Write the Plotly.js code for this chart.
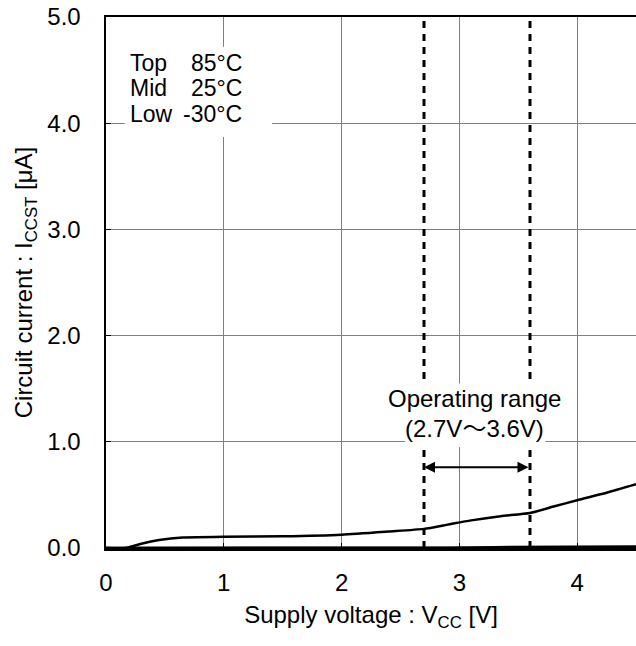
<!DOCTYPE html>
<html>
<head>
<meta charset="utf-8">
<script src="https://cdn.plot.ly/plotly-3.0.1.min.js"></script>
<style>html,body{margin:0;padding:0;background:#fff;}</style>
</head>
<body>
<div id="chart" style="width:636px;height:646px;"></div>
<script>
// Supply voltage [V]
const vccTop = [0.0, 0.17, 0.3, 0.45, 0.65, 1.0, 1.5, 2.0, 2.4, 2.7, 2.9, 3.1, 3.35, 3.6, 3.8, 4.0, 4.25, 4.5];
// 85°C circuit current [µA]
const iccTop = [0.0, 0.0, 0.04, 0.075, 0.1, 0.105, 0.11, 0.125, 0.155, 0.18, 0.22, 0.26, 0.3, 0.33, 0.39, 0.45, 0.52, 0.6];
const vccMid = [0.0, 1.0, 2.0, 2.9, 3.3, 3.6, 4.0, 4.5];
const iccMid = [0.0, 0.0, 0.0, 0.003, 0.008, 0.01, 0.012, 0.015];
const vccLow = [0.0, 1.0, 2.0, 3.0, 4.0, 4.5];
const iccLow = [0.0, 0.0, 0.0, 0.0, 0.0, 0.0];

const rangeMin = 2.7, rangeMax = 3.6;
const legendNames = ["Top", "Mid", "Low"];
const legendTemps = ["85°C", "25°C", "-30°C"];
const rangeLabel = ["Operating range", "(2.7V<span style=\"font-family:'Noto Sans CJK JP'\">～</span>3.6V)"];
const xTicks = [0, 1, 2, 3, 4];
const yTicks = [0, 1, 2, 3, 4, 5];
const yTickText = ["0.0", "1.0", "2.0", "3.0", "4.0", "5.0"];

const FONT = "Liberation Sans, Arial, Helvetica, sans-serif";
const FS = 24;

const lineStyle = {color: "#000", width: 2.5};
const traces = [
  {x: vccLow, y: iccLow, mode: "lines", line: lineStyle, hoverinfo: "skip"},
  {x: vccMid, y: iccMid, mode: "lines", line: lineStyle, hoverinfo: "skip"},
  {x: vccTop, y: iccTop, mode: "lines", line: Object.assign({shape: "spline", smoothing: 0.6}, lineStyle), hoverinfo: "skip"}
];

const shapes = [
  {type: "line", xref: "x", yref: "y", x0: rangeMin, x1: rangeMin, y0: 0, y1: 5, line: {color: "#000", width: 3, dash: "7px,6px"}, layer: "above"},
  {type: "line", xref: "x", yref: "y", x0: rangeMax, x1: rangeMax, y0: 0, y1: 5, line: {color: "#000", width: 3, dash: "7px,6px"}, layer: "above"},
  // legend white box
  {type: "rect", xref: "x", yref: "y", x0: 0.16, x1: 1.41, y0: 3.87, y1: 4.72, fillcolor: "#fff", line: {width: 0}, layer: "above"},
  // operating-range label white box
  {type: "rect", xref: "x", yref: "y", x0: 2.54, x1: 3.73, y0: 0.95, y1: 1.55, fillcolor: "#fff", line: {width: 0}, layer: "above"}
];

const annotations = [
  {xref: "x", yref: "y", x: rangeMin, y: 0.76, ax: rangeMax, ay: 0.76, axref: "x", ayref: "y",
   text: "", showarrow: true, arrowhead: 2, arrowside: "end+start", arrowsize: 1.1, arrowwidth: 2, arrowcolor: "#000"}
];
const rangeY = [1.41, 1.14];
rangeLabel.forEach((t, i) => annotations.push({
  xref: "x", yref: "y", x: 3.13, y: rangeY[i], xanchor: "center", yanchor: "middle",
  text: t, showarrow: false, font: {family: FONT, size: FS, color: "#000"}
}));
const legY = [4.57, 4.33, 4.09];
legendNames.forEach((t, i) => {
  annotations.push({xref: "x", yref: "y", x: 0.19, y: legY[i], xanchor: "left", yanchor: "middle",
    text: t, showarrow: false, font: {family: FONT, size: 23, color: "#000"}});
  annotations.push({xref: "x", yref: "y", x: 1.175, y: legY[i], xanchor: "right", yanchor: "middle",
    text: legendTemps[i], showarrow: false, font: {family: FONT, size: 23, color: "#000"}});
});

const layout = {
  width: 636, height: 646,
  margin: {l: 106, r: 0, t: 17, b: 98},
  paper_bgcolor: "#fff", plot_bgcolor: "#fff",
  showlegend: false,
  font: {family: FONT, size: FS, color: "#000"},
  xaxis: {
    range: [0, 4.5], tickvals: xTicks, ticktext: xTicks.map(String),
    showgrid: true, gridcolor: "#808080", gridwidth: 1, zeroline: false,
    showline: true, linecolor: "#000", linewidth: 2.5, mirror: true,
    ticks: "inside", ticklen: 5, tickcolor: "#000", ticklabelstandoff: 12,
    tickfont: {family: FONT, size: FS, color: "#000"},
    title: {text: "Supply voltage : V<sub>CC</sub> [V]", font: {family: FONT, size: FS, color: "#000"}, standoff: 11}
  },
  yaxis: {
    range: [0, 5], tickvals: yTicks, ticktext: yTickText,
    showgrid: true, gridcolor: "#808080", gridwidth: 1, zeroline: false,
    showline: true, linecolor: "#000", linewidth: 2.5, mirror: false,
    ticks: "inside", ticklen: 5, tickcolor: "#000", ticklabelstandoff: 18,
    tickfont: {family: FONT, size: FS, color: "#000"},
    title: {text: "Circuit current : I<sub>CCST</sub> [μA]", font: {family: FONT, size: FS, color: "#000"}, standoff: 8}
  },
  shapes: shapes,
  annotations: annotations
};

Plotly.newPlot("chart", traces, layout, {displayModeBar: false, staticPlot: true});
</script>
</body>
</html>
